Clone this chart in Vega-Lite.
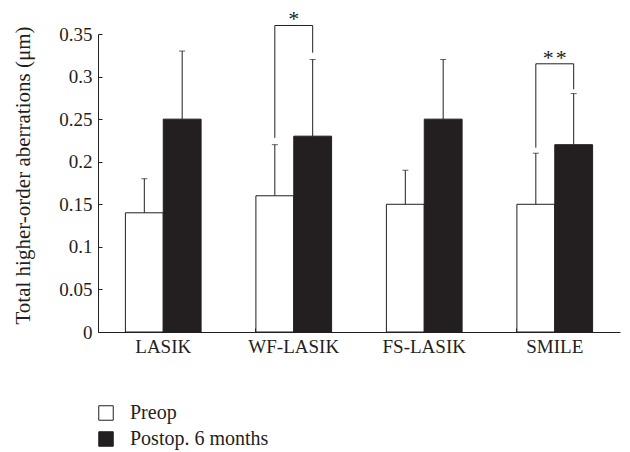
{
  "$schema": "https://vega.github.io/schema/vega-lite/v6.json",
  "width": 522,
  "height": 298,
  "autosize": {"type": "none"},
  "padding": {"left": 98, "top": 34, "right": 10, "bottom": 120},
  "background": "white",
  "config": {
    "font": "Liberation Serif",
    "view": {"stroke": null},
    "axis": {"grid": false, "domainColor": "#231f20", "tickColor": "#231f20", "labelColor": "#231f20", "titleColor": "#231f20", "labelFont": "Liberation Serif", "titleFont": "Liberation Serif", "labelFontSize": 19, "titleFontSize": 21, "titleFontWeight": "normal"}
  },
  "datasets": {
    "bars": [
      {"procedure": "LASIK", "time": "Preop", "hoa": 0.14, "upper": 0.18},
      {"procedure": "LASIK", "time": "Postop. 6 months", "hoa": 0.25, "upper": 0.33},
      {"procedure": "WF-LASIK", "time": "Preop", "hoa": 0.16, "upper": 0.22},
      {"procedure": "WF-LASIK", "time": "Postop. 6 months", "hoa": 0.23, "upper": 0.32},
      {"procedure": "FS-LASIK", "time": "Preop", "hoa": 0.15, "upper": 0.19},
      {"procedure": "FS-LASIK", "time": "Postop. 6 months", "hoa": 0.25, "upper": 0.32},
      {"procedure": "SMILE", "time": "Preop", "hoa": 0.15, "upper": 0.21},
      {"procedure": "SMILE", "time": "Postop. 6 months", "hoa": 0.22, "upper": 0.28}
    ],
    "brackets": [
      {"procedure": "WF-LASIK", "time": "Preop", "v": 0.228, "ord": 1},
      {"procedure": "WF-LASIK", "time": "Preop", "v": 0.36, "ord": 2},
      {"procedure": "WF-LASIK", "time": "Postop. 6 months", "v": 0.36, "ord": 3},
      {"procedure": "WF-LASIK", "time": "Postop. 6 months", "v": 0.328, "ord": 4},
      {"procedure": "SMILE", "time": "Preop", "v": 0.2165, "ord": 1},
      {"procedure": "SMILE", "time": "Preop", "v": 0.315, "ord": 2},
      {"procedure": "SMILE", "time": "Postop. 6 months", "v": 0.315, "ord": 3},
      {"procedure": "SMILE", "time": "Postop. 6 months", "v": 0.285, "ord": 4}
    ],
    "stars": [
      {"procedure": "WF-LASIK", "v": 0.36, "label": "*"},
      {"procedure": "SMILE", "v": 0.315, "label": "*\u200a*"}
    ]
  },
  "encoding": {
    "x": {
      "field": "procedure", "type": "nominal",
      "sort": ["LASIK", "WF-LASIK", "FS-LASIK", "SMILE"],
      "scale": {"paddingInner": 0.42, "paddingOuter": 0.21},
      "axis": {"title": null, "labelAngle": 0, "bandPosition": 0, "tickSize": -4, "labelPadding": 9, "domainWidth": 1}
    }
  },
  "layer": [
    {
      "data": {"name": "bars"},
      "mark": {"type": "bar", "stroke": "#231f20", "strokeWidth": 1},
      "encoding": {
        "xOffset": {"field": "time", "type": "nominal", "sort": ["Preop", "Postop. 6 months"], "scale": {"paddingInner": 0, "paddingOuter": 0}},
        "y": {
          "field": "hoa", "type": "quantitative",
          "scale": {"domain": [0, 0.35], "nice": false},
          "axis": {"title": "Total higher-order aberrations (μm)", "values": [0, 0.05, 0.1, 0.15, 0.2, 0.25, 0.3, 0.35], "format": "~g", "tickSize": -4, "labelPadding": 10, "titleX": -75, "titleY": 141, "titleAngle": -90, "titleAlign": "center", "titleBaseline": "middle"}
        },
        "fill": {
          "field": "time", "type": "nominal", "sort": ["Preop", "Postop. 6 months"],
          "scale": {"range": ["#ffffff", "#231f20"]},
          "legend": {"title": null, "orient": "none", "legendX": -2, "legendY": 369, "direction": "vertical", "symbolType": "square", "symbolSize": 210, "symbolStrokeColor": "#231f20", "symbolStrokeWidth": 1, "labelFont": "Liberation Serif", "labelFontSize": 20, "labelColor": "#231f20", "labelOffset": 14, "rowPadding": 6, "padding": 0}
        }
      }
    },
    {
      "data": {"name": "bars"},
      "mark": {"type": "rule", "color": "#231f20", "strokeWidth": 1},
      "encoding": {
        "xOffset": {"field": "time", "type": "nominal", "sort": ["Preop", "Postop. 6 months"]},
        "y": {"field": "hoa", "type": "quantitative"},
        "y2": {"field": "upper"}
      }
    },
    {
      "data": {"name": "bars"},
      "mark": {"type": "tick", "color": "#231f20", "thickness": 1, "size": 6, "orient": "horizontal"},
      "encoding": {
        "xOffset": {"field": "time", "type": "nominal", "sort": ["Preop", "Postop. 6 months"]},
        "y": {"field": "upper", "type": "quantitative"}
      }
    },
    {
      "data": {"name": "brackets"},
      "mark": {"type": "line", "color": "#231f20", "strokeWidth": 1, "interpolate": "linear"},
      "encoding": {
        "xOffset": {"field": "time", "type": "nominal", "sort": ["Preop", "Postop. 6 months"]},
        "y": {"field": "v", "type": "quantitative"},
        "order": {"field": "ord", "type": "quantitative"},
        "detail": {"field": "procedure", "type": "nominal"}
      }
    },
    {
      "data": {"name": "stars"},
      "mark": {"type": "text", "font": "Liberation Serif", "fontSize": 22, "color": "#231f20", "baseline": "alphabetic", "dy": 1},
      "encoding": {
        "y": {"field": "v", "type": "quantitative"},
        "text": {"field": "label"}
      }
    }
  ]
}
